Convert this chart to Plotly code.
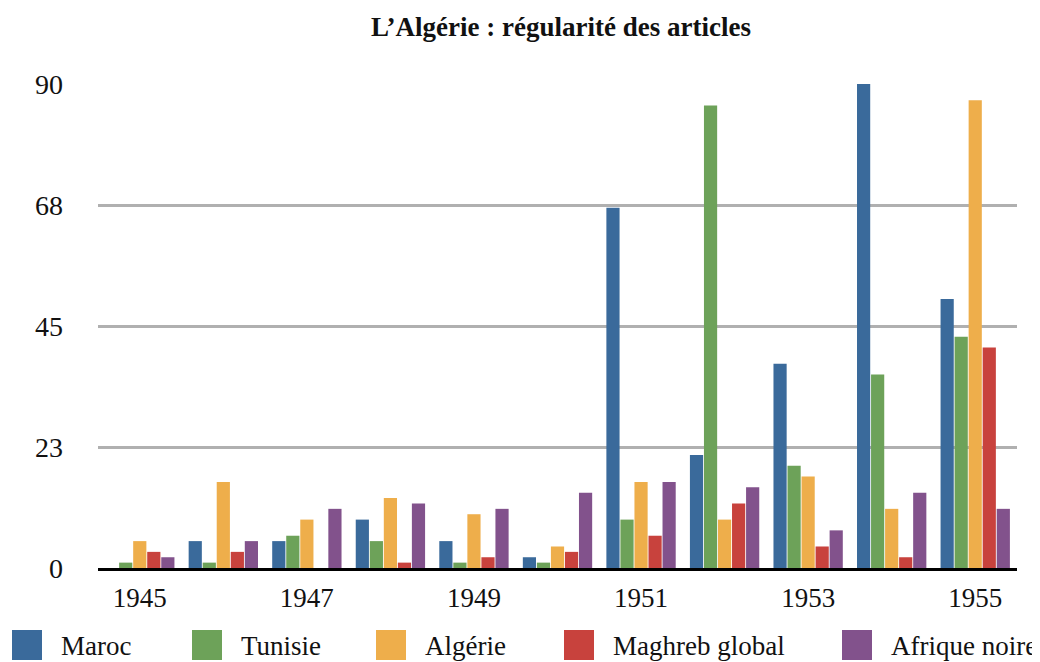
import plotly.graph_objects as go

years = list(range(1945, 1956))
series_names = ["Maroc", "Tunisie", "Algérie", "Maghreb global", "Afrique noire"]
maroc = [0, 5, 5, 9, 5, 2, 67, 21, 38, 90, 50]
tunisie = [1, 1, 6, 5, 1, 1, 9, 86, 19, 36, 43]
algerie = [5, 16, 9, 13, 10, 4, 16, 9, 17, 11, 87]
maghreb = [3, 3, 0, 1, 2, 3, 6, 12, 4, 2, 41]
afrique = [2, 5, 11, 12, 11, 14, 16, 15, 7, 14, 11]
colors = ["#3A6A9B", "#6DA259", "#EEAE4B", "#C8423D", "#82528C"]
ytick_vals = [0, 22.5, 45, 67.5, 90]
ytick_text = ["0", "23", "45", "68", "90"]
xtick_vals = [1945, 1947, 1949, 1951, 1953, 1955]

FONT = "Liberation Serif"
data = [maroc, tunisie, algerie, maghreb, afrique]

# page has an 8px body margin: figure is 1032x654, drawn at (8,8)
W, H = 1032, 654
L, R, T, B = 90, 23, 76, 94
PW, PH = W - L - R, H - T - B

def px(x):
    return (x - 8 - L) / PW

def py(y):
    return (H - B - (y - 8)) / PH

fig = go.Figure()
for name, vals, c in zip(series_names, data, colors):
    fig.add_trace(go.Bar(x=years, y=vals, name=name, marker=dict(color=c, line=dict(width=0)),
                         showlegend=False))

# custom legend (large square swatches)
leg_swatch_x = [12, 192, 376, 564, 842]
for name, c, sx in zip(series_names, colors, leg_swatch_x):
    fig.add_shape(type="rect", xref="paper", yref="paper",
                  x0=px(sx), x1=px(sx + 30), y0=py(660), y1=py(630),
                  fillcolor=c, line=dict(width=0))
    fig.add_annotation(text=name, xref="paper", yref="paper",
                       x=px(sx + 47), y=py(646),
                       xanchor="left", yanchor="middle", showarrow=False,
                       font=dict(family=FONT, size=27, color="#111"))

fig.update_layout(
    width=W, height=H,
    margin=dict(l=L, r=R, t=T, b=B),
    paper_bgcolor="white", plot_bgcolor="white",
    barmode="group", bargap=0.16, bargroupgap=0.06,
    title=dict(text="<b>L’Algérie : régularité des articles</b>", x=(561 - 8) / W, xanchor="center",
               y=1 - (27 - 8) / H, yanchor="middle",
               font=dict(family=FONT, size=27, color="#111")),
    font=dict(family=FONT, size=27, color="#111"),
    xaxis=dict(range=[1944.5, 1955.5], tickvals=xtick_vals, ticktext=[str(v) for v in xtick_vals],
               showgrid=False, showline=True, linecolor="#000", linewidth=3,
               ticks="", tickfont=dict(size=27), ticklabelstandoff=4),
    yaxis=dict(range=[0, 90], tickvals=ytick_vals, ticktext=ytick_text,
               showgrid=True, gridcolor="#B0B0B0", gridwidth=2.5, zeroline=False,
               showline=False, ticks="", tickfont=dict(size=28), ticklabelstandoff=34),
)

fig.write_html("out.html")
